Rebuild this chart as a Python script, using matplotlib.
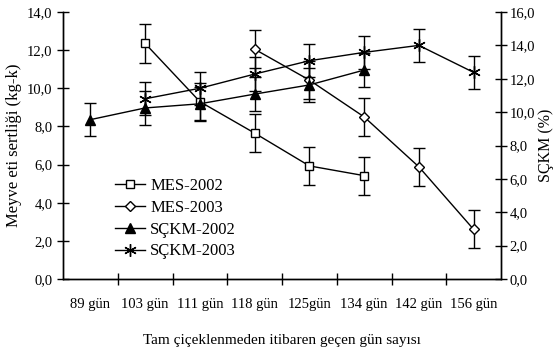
import matplotlib.pyplot as plt
from matplotlib.lines import Line2D
import numpy as np

plt.rcParams['font.family'] = ['Liberation Serif', 'DejaVu Serif']

# categories (days after full bloom)
days = ['89 gün', '103 gün', '111 gün', '118 gün', '125gün', '134 gün', '142 gün', '156 gün']

# fruit firmness (kg-k), left axis
mes_2002 = [np.nan, 12.35, 9.3, 7.65, 5.93, 5.42, np.nan, np.nan]
mes_2003 = [np.nan, np.nan, np.nan, 12.05, 10.43, 8.5, 5.88, 2.6]
mes_err = 1.0

# soluble solids (%), right axis
sckm_2002 = [9.55, 10.25, 10.5, 11.08, 11.63, 12.52, np.nan, np.nan]
sckm_2003 = [np.nan, 10.8, 11.43, 12.28, 13.08, 13.58, 14.0, 12.38]
sckm_err = 1.0

x = np.arange(len(days))

fig = plt.figure(figsize=(5.57, 3.53), dpi=100)
ax = fig.add_axes([0.1131, 0.2096, 0.7864, 0.7564])
ax2 = ax.twinx()

eb = dict(color='black', lw=1.0, ecolor='black', elinewidth=1.0, capsize=4, capthick=1.0)
styles = [
    dict(marker='s', ms=6, mfc='white', mec='black'),
    dict(marker='D', ms=5, mfc='white', mec='black'),
    dict(marker='^', ms=7, mfc='black', mec='black'),
    dict(marker=(6, 2, 0), ms=9, mec='black', mew=1.0),
]
labels = ['MES-2002', 'MES-2003', 'SÇKM-2002', 'SÇKM-2003']

ax.errorbar(x, mes_2002, yerr=mes_err, **styles[0], **eb)
ax.errorbar(x, mes_2003, yerr=mes_err, **styles[1], **eb)
ax2.errorbar(x, sckm_2002, yerr=sckm_err, **styles[2], **eb)
ax2.errorbar(x, sckm_2003, yerr=sckm_err, **styles[3], **eb)

ax.set_xlim(-0.5, len(days) - 0.5)
ax.set_ylim(0, 14)
ax2.set_ylim(0, 16)

ax.set_yticks(np.arange(0, 14.1, 2))
ax.set_yticklabels([f'{v:.1f}'.replace('.', ',') for v in np.arange(0, 14.1, 2)])
ax2.set_yticks(np.arange(0, 16.1, 2))
ax2.set_yticklabels([f'{v:.1f}'.replace('.', ',') for v in np.arange(0, 16.1, 2)])

# tick marks between categories, labels centred
ax.set_xticks(np.arange(0.5, len(days) - 0.5, 1))
ax.set_xticklabels([])
ax.set_xticks(x, minor=True)
ax.set_xticklabels(days, minor=True)
ax.tick_params(axis='x', which='major', direction='inout', length=8, width=1)
ax.tick_params(axis='x', which='minor', length=0, pad=14, labelsize=10.5)
ax.tick_params(axis='y', direction='inout', length=8, width=1, labelsize=10.5)
ax2.tick_params(axis='y', direction='inout', length=8, width=1, labelsize=10.5, pad=2)

for a in (ax, ax2):
    a.spines['top'].set_visible(False)
    for s in ('left', 'right', 'bottom'):
        a.spines[s].set_linewidth(1.0)

ax.set_ylabel('Meyve eti sertliği (kg-k)', fontsize=12)
ax2.set_ylabel('SÇKM (%)', fontsize=11.5, rotation=90, labelpad=2)
ax.set_xlabel('Tam çiçeklenmeden itibaren geçen gün sayısı', fontsize=11, labelpad=16)

handles = [Line2D([], [], color='black', lw=1.0, **st) for st in styles]
ax.legend(handles, labels, loc='upper left',
          bbox_to_anchor=(0.10, 0.41), frameon=False, fontsize=12,
          handlelength=1.8, handletextpad=0.3, labelspacing=0.35, borderpad=0)

fig.savefig('out.png', dpi=100)
